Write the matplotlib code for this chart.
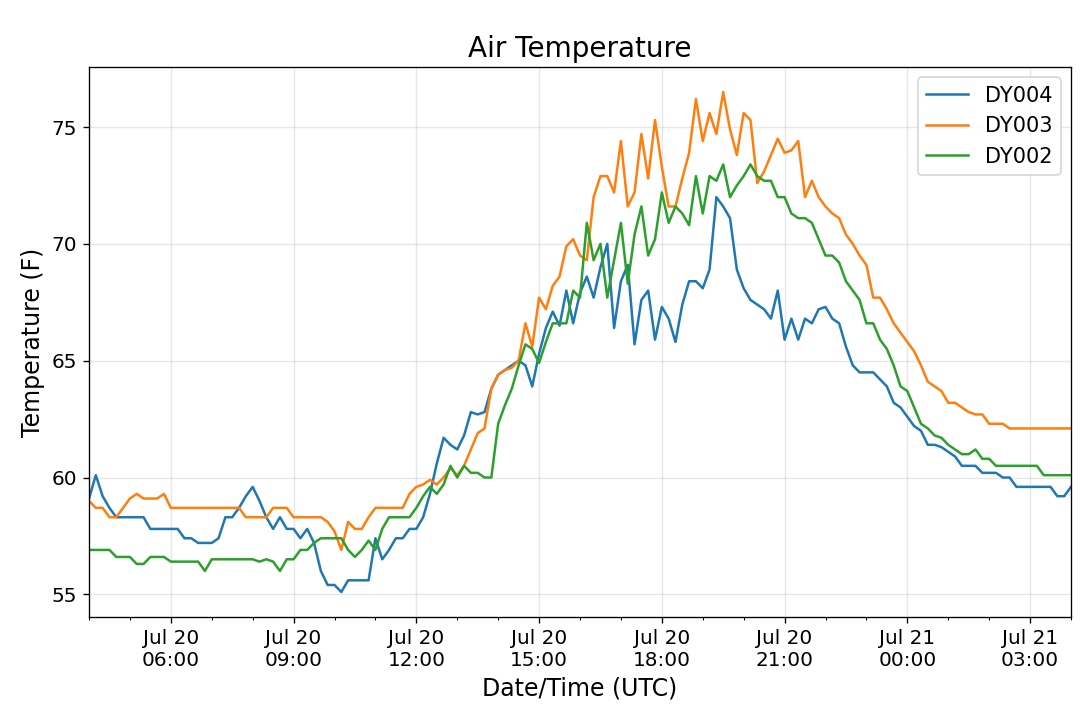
#!/usr/bin/env python3
"""Air temperature at three stations, 10-min samples, Jul 20 04:00 -> Jul 21 04:00 UTC."""
import numpy as np, pandas as pd
import matplotlib; matplotlib.use("Agg")
import matplotlib.pyplot as plt
import matplotlib.dates as mdates

START = "2019-07-20 04:00"
STEP = "10min"

DY004 = [59.1, 60.1, 59.2, 58.7, 58.3, 58.3, 58.3, 58.3, 58.3, 57.8,
         57.8, 57.8, 57.8, 57.8, 57.4, 57.4, 57.2, 57.2, 57.2, 57.4,
         58.3, 58.3, 58.7, 59.2, 59.6, 59.0, 58.3, 57.8, 58.3, 57.8,
         57.8, 57.4, 57.8, 57.2, 56.0, 55.4, 55.4, 55.1, 55.6, 55.6,
         55.6, 55.6, 57.4, 56.5, 56.9, 57.4, 57.4, 57.8, 57.8, 58.3,
         59.3, 60.6, 61.7, 61.4, 61.2, 61.8, 62.8, 62.7, 62.8, 63.8,
         64.4, 64.6, 64.8, 65.0, 64.8, 63.9, 65.3, 66.4, 67.1, 66.5,
         68.0, 66.6, 67.9, 68.6, 67.7, 69.0, 70.0, 66.4, 68.4, 69.1,
         65.7, 67.6, 68.0, 65.9, 67.3, 66.8, 65.8, 67.4, 68.4, 68.4,
         68.1, 68.9, 72.0, 71.6, 71.1, 68.9, 68.1, 67.6, 67.4, 67.2,
         66.8, 68.0, 65.9, 66.8, 65.9, 66.8, 66.6, 67.2, 67.3, 66.8,
         66.6, 65.6, 64.8, 64.5, 64.5, 64.5, 64.2, 63.9, 63.2, 63.0,
         62.6, 62.2, 62.0, 61.4, 61.4, 61.3, 61.1, 60.9, 60.5, 60.5,
         60.5, 60.2, 60.2, 60.2, 60.0, 60.0, 59.6, 59.6, 59.6, 59.6,
         59.6, 59.6, 59.2, 59.2, 59.6]

DY003 = [59.0, 58.7, 58.7, 58.3, 58.3, 58.7, 59.1, 59.3, 59.1, 59.1,
         59.1, 59.3, 58.7, 58.7, 58.7, 58.7, 58.7, 58.7, 58.7, 58.7,
         58.7, 58.7, 58.7, 58.3, 58.3, 58.3, 58.3, 58.7, 58.7, 58.7,
         58.3, 58.3, 58.3, 58.3, 58.3, 58.1, 57.7, 56.9, 58.1, 57.8,
         57.8, 58.3, 58.7, 58.7, 58.7, 58.7, 58.7, 59.3, 59.6, 59.7,
         59.9, 59.7, 60.0, 60.4, 60.1, 60.5, 61.2, 61.9, 62.1, 63.8,
         64.4, 64.6, 64.7, 65.0, 66.6, 65.6, 67.7, 67.2, 68.2, 68.6,
         69.9, 70.2, 69.5, 69.3, 72.0, 72.9, 72.9, 72.2, 74.4, 71.6,
         72.2, 74.7, 72.8, 75.3, 73.3, 71.6, 71.6, 72.8, 73.9, 76.2,
         74.4, 75.6, 74.7, 76.5, 74.9, 73.8, 75.6, 75.3, 72.6, 73.1,
         73.8, 74.5, 73.9, 74.0, 74.4, 72.0, 72.7, 72.0, 71.6, 71.3,
         71.1, 70.4, 70.0, 69.5, 69.1, 67.7, 67.7, 67.2, 66.6, 66.2,
         65.8, 65.4, 64.8, 64.1, 63.9, 63.7, 63.2, 63.2, 63.0, 62.8,
         62.7, 62.7, 62.3, 62.3, 62.3, 62.1, 62.1, 62.1, 62.1, 62.1,
         62.1, 62.1, 62.1, 62.1, 62.1]

DY002 = [56.9, 56.9, 56.9, 56.9, 56.6, 56.6, 56.6, 56.3, 56.3, 56.6,
         56.6, 56.6, 56.4, 56.4, 56.4, 56.4, 56.4, 56.0, 56.5, 56.5,
         56.5, 56.5, 56.5, 56.5, 56.5, 56.4, 56.5, 56.4, 56.0, 56.5,
         56.5, 56.9, 56.9, 57.2, 57.4, 57.4, 57.4, 57.4, 56.9, 56.6,
         56.9, 57.3, 56.9, 57.8, 58.3, 58.3, 58.3, 58.3, 58.7, 59.2,
         59.6, 59.3, 59.7, 60.5, 60.0, 60.5, 60.2, 60.2, 60.0, 60.0,
         62.3, 63.1, 63.8, 64.8, 65.7, 65.5, 64.9, 65.8, 66.6, 66.6,
         66.6, 68.0, 67.7, 70.9, 69.3, 70.0, 67.7, 69.3, 70.9, 68.3,
         70.4, 71.6, 69.5, 70.2, 72.2, 70.9, 71.6, 71.3, 70.8, 72.9,
         71.3, 72.9, 72.7, 73.4, 72.0, 72.5, 72.9, 73.4, 72.9, 72.7,
         72.7, 72.0, 72.0, 71.3, 71.1, 71.1, 70.9, 70.2, 69.5, 69.5,
         69.2, 68.4, 68.0, 67.6, 66.6, 66.6, 65.9, 65.5, 64.8, 63.9,
         63.7, 63.0, 62.3, 62.1, 61.8, 61.7, 61.4, 61.2, 61.0, 61.0,
         61.2, 60.8, 60.8, 60.5, 60.5, 60.5, 60.5, 60.5, 60.5, 60.5,
         60.1, 60.1, 60.1, 60.1, 60.1]

SERIES = [("DY004", DY004), ("DY003", DY003), ("DY002", DY002)]


def main():
    t = pd.date_range(START, periods=len(DY004), freq=STEP)
    fig = plt.figure(figsize=(9, 707 / 120), dpi=120)
    ax = fig.add_axes([89 / 1080, 1 - 617 / 707, 982 / 1080, 550 / 707])
    for name, vals in SERIES:
        ax.plot(t, vals, lw=1.5, label=name)
    ax.set_xlim(t[0], t[-1])
    ax.xaxis.set_major_locator(mdates.HourLocator(byhour=range(0, 24, 3)))
    ax.xaxis.set_minor_locator(mdates.HourLocator())
    ax.xaxis.set_major_formatter(mdates.DateFormatter("%b %d\n%H:%M"))
    ax.tick_params(labelsize=12)
    ax.grid(True, alpha=0.3)
    ax.set_title("Air Temperature", fontsize=16.7)
    ax.set_xlabel("Date/Time (UTC)", fontsize=14.2)
    ax.set_ylabel("Temperature (F)", fontsize=14.2)
    ax.legend(loc="upper right", fontsize=12.5)
    fig.savefig("out.png", dpi=120)
    plt.close(fig)


if __name__ == "__main__":
    main()
